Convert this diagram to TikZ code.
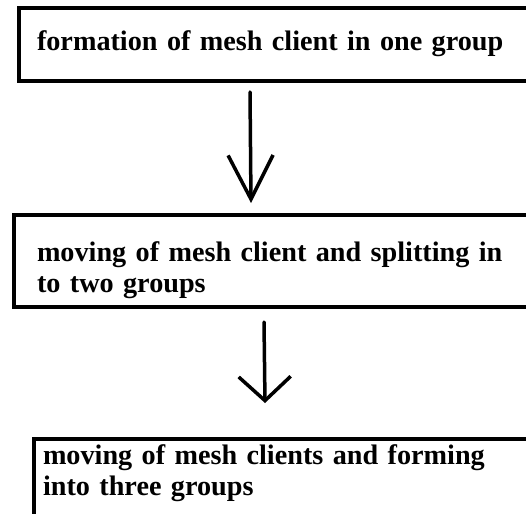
\documentclass[tikz,border=0pt]{standalone}
\usepackage{fontspec}
\setmainfont{Liberation Serif}
\usetikzlibrary{arrows.meta}

\begin{document}
\begin{tikzpicture}[x=1pt,y=-1pt,
  stepbox/.style={draw, line width=4pt, anchor=north west, align=left, text width=600pt,
    inner ysep=0pt, font=\fontsize{28.2}{31}\selectfont\bfseries},
  flowarrow/.style={line width=3.5pt, line cap=round}]
\useasboundingbox (0,0) rectangle (526,513);
\clip (0,0) rectangle (526,513);
\fill [white] (0,0) rectangle (526,513);
\node [stepbox, inner xsep=18pt, text height=43pt, text depth=30pt] (form) at (17,6) {formation of mesh client in one group};
\node [stepbox, inner xsep=23pt, text height=46pt, text depth=46pt] (split) at (12,213) {moving of mesh client and splitting in\\to two groups};
\node [stepbox, inner xsep=9pt, text height=25pt, text depth=70pt] (three) at (32,437) {moving of mesh clients and forming\\into three groups};
\draw [flowarrow, -{Straight Barb[length=44pt,width=45pt]}] ([shift={(233,9)}]form.south west) -- ([shift={(239,-10)}]split.north west);
\draw [flowarrow, -{Straight Barb[length=24pt,width=52pt]}] ([shift={(252,13)}]split.south west) -- ([shift={(233,-34)}]three.north west);
\end{tikzpicture}
\end{document}
